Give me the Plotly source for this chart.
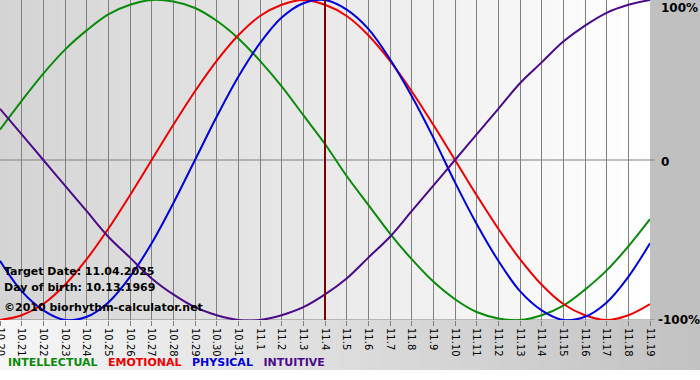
import plotly.graph_objects as go

dates = ["10.20", "10.21", "10.22", "10.23", "10.24", "10.25", "10.26", "10.27", "10.28", "10.29",
         "10.30", "10.31", "11.1", "11.2", "11.3", "11.4", "11.5", "11.6", "11.7", "11.8", "11.9",
         "11.10", "11.11", "11.12", "11.13", "11.14", "11.15", "11.16", "11.17", "11.18", "11.19"]

intellectual = [0.19, 0.37, 0.54, 0.69, 0.81, 0.91, 0.97, 1.00, 0.99, 0.95, 0.87, 0.76, 0.62, 0.46,
                0.28, 0.10, -0.10, -0.28, -0.46, -0.62, -0.76, -0.87, -0.95, -0.99, -1.00, -0.97,
                -0.91, -0.81, -0.69, -0.54, -0.37]
emotional = [-1.00, -0.97, -0.90, -0.78, -0.62, -0.43, -0.22, 0.00, 0.22, 0.43, 0.62, 0.78, 0.90,
             0.97, 1.00, 0.97, 0.90, 0.78, 0.62, 0.43, 0.22, 0.00, -0.22, -0.43, -0.62, -0.78,
             -0.90, -0.97, -1.00, -0.97, -0.90]
physical = [-0.63, -0.82, -0.94, -1.00, -0.98, -0.89, -0.73, -0.52, -0.27, 0.00, 0.27, 0.52, 0.73,
            0.89, 0.98, 1.00, 0.94, 0.82, 0.63, 0.40, 0.14, -0.14, -0.40, -0.63, -0.82, -0.94,
            -1.00, -0.98, -0.89, -0.73, -0.52]
intuitive = [0.32, 0.16, 0.00, -0.16, -0.32, -0.48, -0.61, -0.74, -0.84, -0.92, -0.97, -1.00, -1.00,
             -0.97, -0.92, -0.84, -0.74, -0.61, -0.48, -0.32, -0.16, 0.00, 0.16, 0.32, 0.48, 0.61,
             0.74, 0.84, 0.92, 0.97, 1.00]

target_label = "11.4"
y_labels = ["100%", "0", "-100%"]
y_label_vals = [1, 0, -1]

series = [
    ("INTELLECTUAL", intellectual, "#0a8a0a"),
    ("EMOTIONAL", emotional, "#ee0000"),
    ("PHYSICAL", physical, "#0000dd"),
    ("INTUITIVE", intuitive, "#4b0a8a"),
]

xs = list(range(len(dates)))
FONT = "Verdana, DejaVu Sans, sans-serif"

fig = go.Figure()
for name, vals, col in series:
    fig.add_trace(go.Scatter(x=xs, y=vals, mode="lines", name=name,
                             line=dict(color=col, width=2, shape="spline", smoothing=1.0),
                             hoverinfo="skip", cliponaxis=False))

shapes = []
# plot area gradient (light grey at left -> white at right)
N = 65
for i in range(N):
    f = i / (N - 1)
    c = int(round(212 + (255 - 212) * f))
    shapes.append(dict(type="rect", xref="paper", yref="paper", x0=i / N, x1=(i + 1) / N + 0.001,
                       y0=0, y1=1, fillcolor=f"rgb({c},{c},{c})", line=dict(width=0), layer="below"))
# right grey strip
shapes.append(dict(type="rect", xref="paper", yref="paper", x0=1, x1=700 / 650, y0=0, y1=1,
                   fillcolor="#c0c0c0", line=dict(width=0), layer="below"))
# bottom gradient strip (whitish at left -> grey at right)
M = 70
for i in range(M):
    f = i / (M - 1)
    c = int(round(246 + (194 - 246) * f))
    shapes.append(dict(type="rect", xref="paper", yref="paper", x0=i / M * 700 / 650,
                       x1=(i + 1) / M * 700 / 650 + 0.001, y0=-50 / 320, y1=0,
                       fillcolor=f"rgb({c},{c},{c})", line=dict(width=0), layer="below"))
# zero line and bottom axis line (extend a little into right margin)
for yv in (0, -1):
    shapes.append(dict(type="line", xref="paper", yref="y", x0=0, x1=655 / 650, y0=yv, y1=yv,
                       line=dict(color="#808080", width=1), layer="below"))
# target date line
ti = dates.index(target_label)
shapes.append(dict(type="line", xref="x", yref="paper", x0=ti, x1=ti, y0=0, y1=1,
                   line=dict(color="#800000", width=2), layer="above"))

annotations = []
# first tick label (partly cut at the left edge, as in the reference)
annotations.append(dict(x=0, xref="x", y=0, yref="paper", yshift=-5, text=dates[0], textangle=90,
                        showarrow=False, xanchor="center", yanchor="top",
                        font=dict(family=FONT, size=10, color="#000")))
# right-side labels
annotations.append(dict(x=1.0, xref="paper", xshift=9, y=1, yref="paper", yshift=1,
                        text="<b>" + y_labels[0] + "</b>", showarrow=False, xanchor="left",
                        yanchor="top", font=dict(family=FONT, size=12, color="#000")))
annotations.append(dict(x=1.0, xref="paper", xshift=9, y=y_label_vals[1], yref="y", yshift=-2,
                        text="<b>" + y_labels[1] + "</b>", showarrow=False, xanchor="left",
                        yanchor="middle", font=dict(family=FONT, size=12, color="#000")))
annotations.append(dict(x=1.0, xref="paper", xshift=6, y=y_label_vals[2], yref="y",
                        text="<b>" + y_labels[2] + "</b>", showarrow=False, xanchor="left",
                        yanchor="middle", font=dict(family=FONT, size=12, color="#000")))
# info text
info = ["Target Date: 11.04.2025", "Day of birth: 10.13.1969", "\u00a92010 biorhythm-calculator.net"]
info_y = [271, 287, 307]
for t, py in zip(info, info_y):
    annotations.append(dict(x=0, xref="paper", xshift=2, y=1 - py / 320, yref="paper",
                            text="<b>" + t + "</b>", showarrow=False, xanchor="left",
                            yanchor="middle", font=dict(family=FONT, size=11, color="#000")))
# legend line
leg = "\u00a0\u00a0\u00a0".join(f"<span style='color:{c}'><b>{n}</b></span>" for n, _, c in series)
annotations.append(dict(x=0, xref="paper", xshift=6, y=1 - 362 / 320, yref="paper", text=leg,
                        showarrow=False, xanchor="left", yanchor="middle",
                        font=dict(family=FONT, size=11)))

fig.update_layout(
    width=700, height=380,
    margin=dict(l=0, r=50, t=0, b=60, pad=0, autoexpand=False),
    paper_bgcolor="white", plot_bgcolor="rgba(0,0,0,0)",
    showlegend=False,
    shapes=shapes, annotations=annotations,
    xaxis=dict(range=[0, len(dates) - 1], tickmode="array", tickvals=xs, ticktext=dates,
               tickangle=90, ticks="outside", ticklen=5, tickcolor="#808080",
               showgrid=True, gridcolor="#808080", gridwidth=1, zeroline=False, automargin=False,
               showline=False, tickfont=dict(family=FONT, size=10, color="#000"), fixedrange=True),
    yaxis=dict(range=[-1, 1], showgrid=False, zeroline=False, showticklabels=False, automargin=False,
               showline=False, ticks="", fixedrange=True),
)

fig.write_html("out.html", config={"displayModeBar": False},
               post_script="document.body.style.margin='0';document.body.style.overflow='hidden';")
